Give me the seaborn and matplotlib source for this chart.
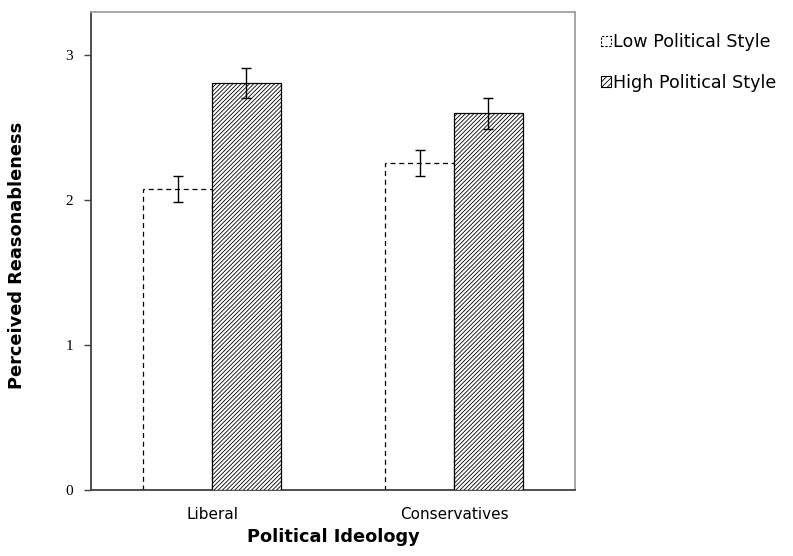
import pandas as pd
import numpy as np
import matplotlib
matplotlib.use("Agg")
import matplotlib.pyplot as plt
import seaborn as sns
from matplotlib.patches import Patch

# values
ideology = ["Liberal", "Conservatives"]
styles = ["Low Political Style", "High Political Style"]
low_means = [2.08, 2.26]
high_means = [2.81, 2.60]
low_err = [0.09, 0.09]
high_err = [0.105, 0.105]

df = pd.DataFrame({
    "Ideology": ideology * 2,
    "Style": [styles[0]] * 2 + [styles[1]] * 2,
    "Mean": low_means + high_means,
    "Err": low_err + high_err,
})

sns.set_theme(style="white")
plt.rcParams["font.family"] = ["DejaVu Sans"]
plt.rcParams["hatch.linewidth"] = 0.6
plt.rcParams["text.color"] = "black"
plt.rcParams["axes.labelcolor"] = "black"
plt.rcParams["xtick.color"] = "black"
plt.rcParams["ytick.color"] = "black"

fig = plt.figure(figsize=(7.93, 5.56), dpi=100)
ax = fig.add_axes([91 / 793, 1 - 490 / 556, (575 - 91) / 793, (490 - 12) / 556])

sns.barplot(data=df, x="Ideology", y="Mean", hue="Style", order=ideology,
            hue_order=styles, errorbar=None, width=0.57, ax=ax,
            palette=["white", "white"], legend=False)

# style the bars: dashed outline for low, hatched for high
for i, p in enumerate(ax.patches):
    if i < 2:
        p.set_facecolor("white")
        p.set_edgecolor("black")
        p.set_linestyle((0, (4, 3)))
        p.set_linewidth(0.9)
    else:
        p.set_facecolor("white")
        p.set_edgecolor("black")
        p.set_hatch("////////")
        p.set_linewidth(0.9)
        p.set_zorder(3)

# error bars at bar centres
for i, p in enumerate(ax.patches[:4]):
    row = df.iloc[i]
    xc = p.get_x() + p.get_width() / 2
    ax.errorbar(xc, row["Mean"], yerr=row["Err"], fmt="none", ecolor="black",
                elinewidth=1.0, capsize=3.5, capthick=1.0, zorder=5)

ax.set_xlim(-0.5, 1.5)
ax.set_ylim(0, 3.3)
ax.set_yticks([0, 1, 2, 3])
ax.set_yticklabels(["0", "1", "2", "3"], fontfamily="Liberation Serif", fontsize=11)
ax.set_xticks([0, 1])
ax.set_xticklabels(ideology, fontsize=11)
ax.set_xticks([0.5, 1.5], minor=True)
ax.tick_params(axis="x", which="major", length=0, pad=12)
ax.tick_params(axis="x", which="minor", length=4, width=1, color="#404040", direction="out")
ax.tick_params(axis="y", length=5, width=1, color="#404040", direction="out", left=True, pad=8)

for s in ["left", "bottom"]:
    ax.spines[s].set_color("#404040")
    ax.spines[s].set_linewidth(1.3)
for s in ["top", "right"]:
    ax.spines[s].set_color("#a0a0a0")
    ax.spines[s].set_linewidth(1.3)

ax.set_xlabel("Political Ideology", fontsize=12.8, fontweight="bold")
ax.set_ylabel("Perceived Reasonableness", fontsize=12.8, fontweight="bold")
ax.xaxis.set_label_coords((333 - 91) / 484, -(537 - 490) / 478)
ax.yaxis.set_label_coords(-(91 - 17) / 484, (490 - 255) / 478)
ax.xaxis.label.set_va("center")
ax.yaxis.label.set_va("center")

handles = [
    Patch(facecolor="white", edgecolor="black", linestyle=(0, (2, 1.5)), linewidth=0.8),
    Patch(facecolor="white", edgecolor="black", hatch="//////", linewidth=0.8),
]
fig.legend(handles, styles, loc="upper left", bbox_to_anchor=(601 / 793, 1 - 33 / 556),
           frameon=False, fontsize=12.6, handlelength=0.55, handleheight=0.55,
           handletextpad=0.15, labelspacing=1.3, borderaxespad=0, borderpad=0)

fig.savefig("out.png", dpi=100)
